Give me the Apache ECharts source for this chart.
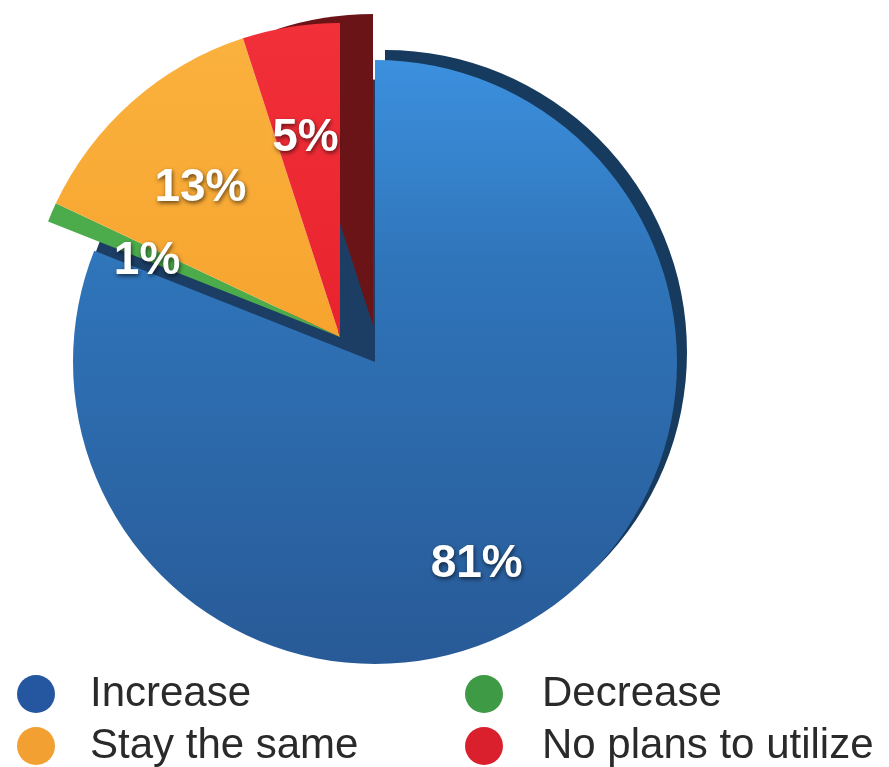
<!DOCTYPE html>
<html><head><meta charset="utf-8">
<script src="https://cdn.jsdelivr.net/npm/echarts@6/dist/echarts.min.js"></script>
<style>html,body{margin:0;padding:0;background:#fff}#c{width:889px;height:767px}</style>
</head><body><div id="c"></div>
<script>
// ---- data ----
const categories = ['Increase', 'Decrease', 'Stay the same', 'No plans to utilize'];
const values = [81, 1, 13, 5];
const legendLeft = ['Increase', 'Stay the same'];
const legendRight = ['Decrease', 'No plans to utilize'];

// ---- styles ----
const FONT = '"Liberation Sans", Arial, Helvetica, sans-serif';
const T = 'rgba(0,0,0,0)';
const G = echarts.graphic.LinearGradient;
const faceColors = [
  new G(0, 0, 0, 1, [{offset: 0, color: '#3c90de'}, {offset: 0.35, color: '#2f74b9'}, {offset: 1, color: '#285a97'}]),
  '#4cab4a',
  new G(0, 0, 0, 1, [{offset: 0, color: '#fbb13e'}, {offset: 1, color: '#f6a42e'}]),
  new G(0, 0, 0, 1, [{offset: 0, color: '#f2303a'}, {offset: 1, color: '#e8232d'}])
];
const legendColors = {
  'Increase': '#2556a0', 'Decrease': '#3f9a45',
  'Stay the same': '#f3a033', 'No plans to utilize': '#d9202c'
};

function pieData(visible, colorFor, labelOn) {
  return categories.map((n, i) => ({
    name: n,
    value: values[i],
    itemStyle: {color: visible.includes(i) ? colorFor(i) : T},
    label: {show: !!(labelOn && labelOn.includes(i))}
  }));
}

const labelStyle = {
  position: 'inside', formatter: '{c}%', color: '#ffffff',
  fontSize: 46, fontWeight: 'bold', fontFamily: FONT,
  textShadowColor: 'rgba(0,0,0,0.6)', textShadowBlur: 4,
  textShadowOffsetX: 1, textShadowOffsetY: 2
};

const base = {
  type: 'pie', silent: true, animation: false, startAngle: 90, clockwise: true,
  avoidLabelOverlap: false, label: {show: false}, labelLine: {show: false},
  emphasis: {disabled: true}, itemStyle: {borderWidth: 0}
};

const series = [
  // dark rim of the main slice
  Object.assign({}, base, {z: 1, center: [385, 352], radius: 302,
    data: pieData([0], () => '#173a5f')}),
  // dark side wall along the cut edge
  Object.assign({}, base, {z: 2, center: [338, 332], radius: 255,
    data: pieData([0], () => '#1c3d64')}),
  // dark red side wall of the exploded red slice
  Object.assign({}, base, {z: 3, center: [373, 325], radius: 311,
    data: pieData([3], () => '#6b1417')}),
  // main blue face
  Object.assign({}, base, {z: 4, center: [375, 362], radius: 302,
    data: pieData([0], i => faceColors[i])}),
  // exploded slices
  Object.assign({}, base, {z: 5, center: [340, 337], radius: 314,
    data: pieData([1, 2, 3], i => faceColors[i])}),
  // labels for exploded slices
  Object.assign({}, base, {z: 6, center: [338, 344], radius: [96, 314],
    label: labelStyle, data: pieData([], () => T, [1, 2, 3])}),
  // label for the main slice
  Object.assign({}, base, {z: 6, center: [375, 362], radius: [150, 302],
    label: labelStyle, labelLayout: {dx: -27, dy: 13},
    data: pieData([], () => T, [0])})
];

function legendOf(names, left, pad) {
  return {
    orient: 'vertical', left: left, top: 673, padding: 0, selectedMode: false,
    icon: 'circle', itemWidth: 38, itemHeight: 38, itemGap: 10,
    data: names.map(n => ({name: n, itemStyle: {color: legendColors[n], borderWidth: 0}})),
    textStyle: {fontSize: 42, lineHeight: 40, color: '#2a2a2a', fontFamily: FONT, padding: [0, 0, 0, pad]}
  };
}

const chart = echarts.init(document.getElementById('c'), null, {renderer: 'canvas'});
chart.setOption({
  backgroundColor: '#ffffff',
  animation: false,
  legend: [legendOf(legendLeft, 17, 30), legendOf(legendRight, 465, 34)],
  series: series
});
</script>
</body></html>
